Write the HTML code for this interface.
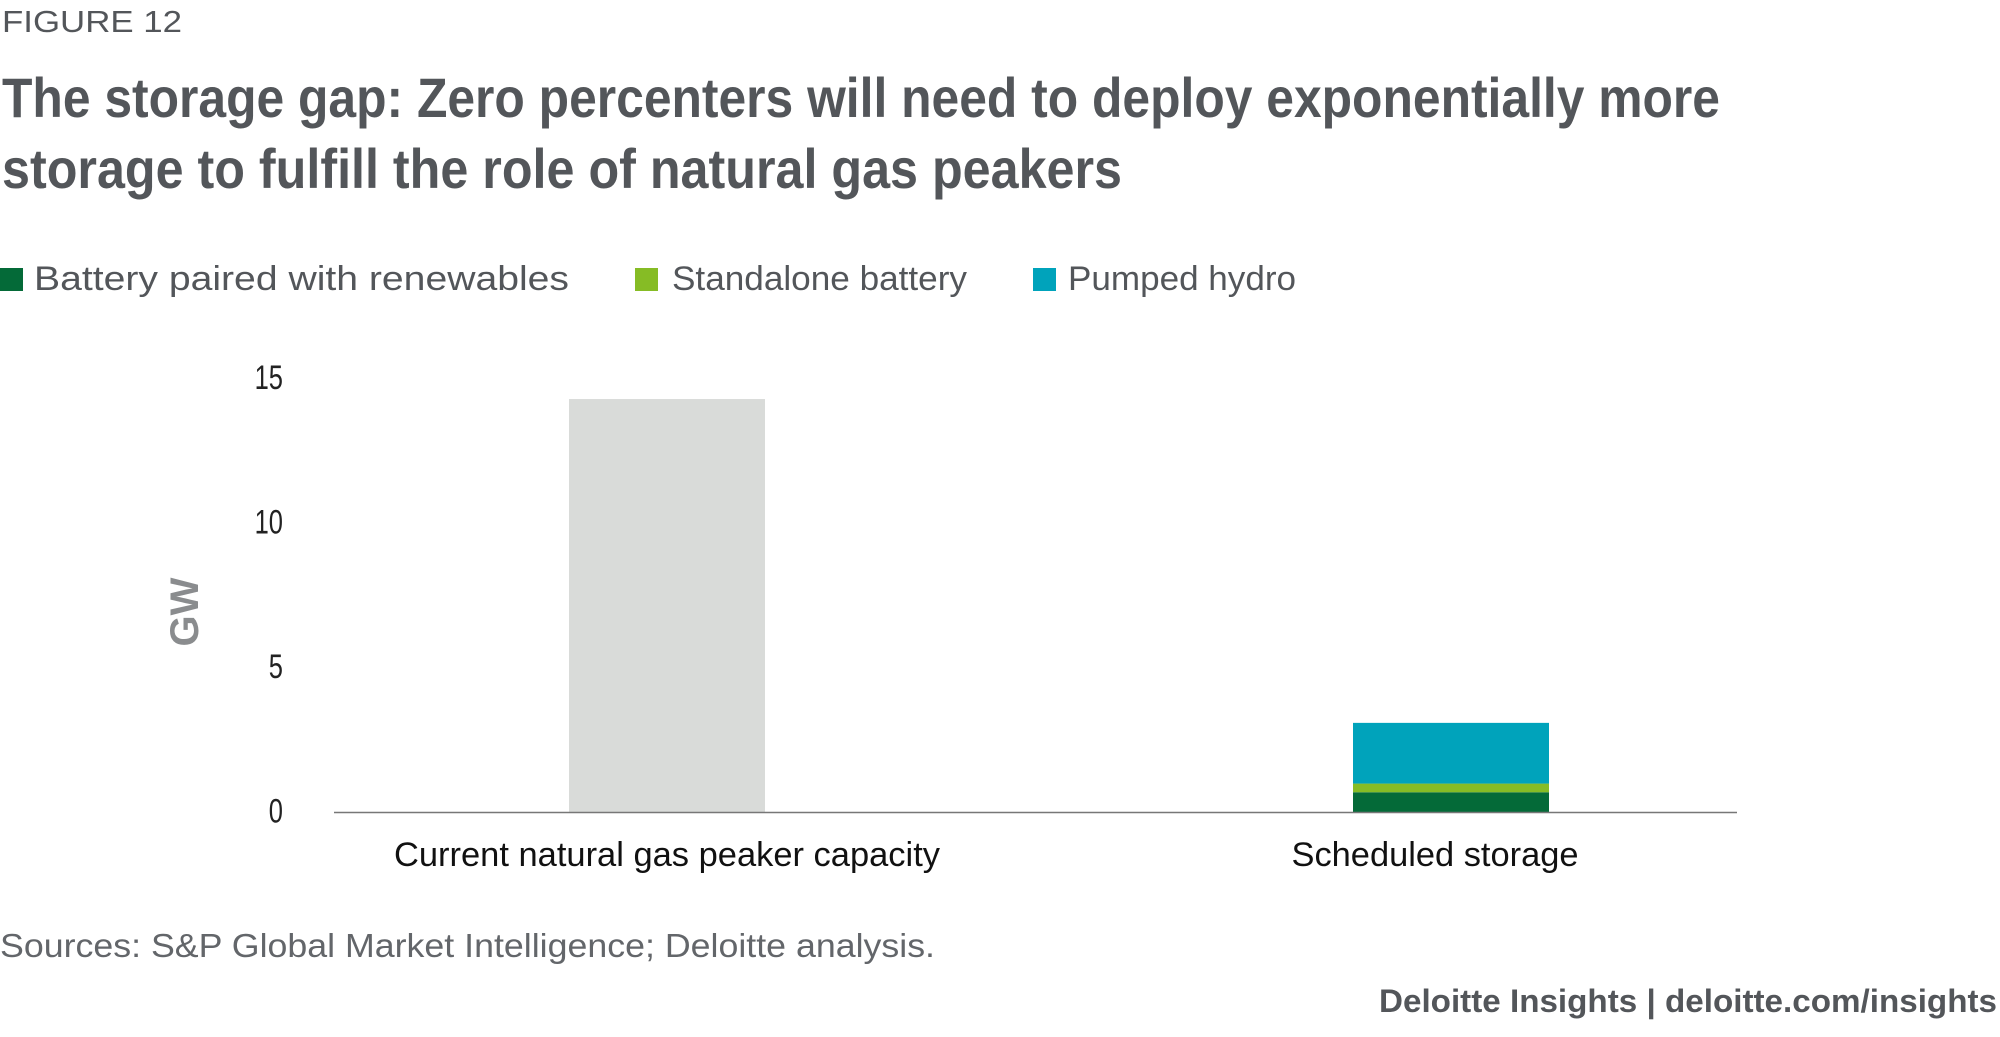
<!DOCTYPE html>
<html><head><meta charset="utf-8"><style>
html,body{margin:0;padding:0;background:#fff;}
svg{display:block;font-family:"Liberation Sans",sans-serif;}
</style></head><body>
<svg id="chart" width="2000" height="1037" viewBox="0 0 2000 1037" xmlns="http://www.w3.org/2000/svg">
<text x="2" y="32" font-size="31" fill="#53565a" textLength="180" lengthAdjust="spacingAndGlyphs">FIGURE 12</text>
<text x="2" y="117" font-size="56" font-weight="bold" fill="#53565a" textLength="1718" lengthAdjust="spacingAndGlyphs">The storage gap: Zero percenters will need to deploy exponentially more</text>
<text x="2" y="188" font-size="56" font-weight="bold" fill="#53565a" textLength="1120" lengthAdjust="spacingAndGlyphs">storage to fulfill the role of natural gas peakers</text>
<g>
<rect x="0" y="268" width="23" height="23" fill="#046a38"/>
<text x="34" y="290" font-size="34" fill="#53565a" textLength="535" lengthAdjust="spacingAndGlyphs">Battery paired with renewables</text>
<rect x="635" y="268" width="23" height="23" fill="#86bc25"/>
<text x="672" y="290" font-size="34" fill="#53565a" textLength="295" lengthAdjust="spacingAndGlyphs">Standalone battery</text>
<rect x="1033" y="268" width="23" height="23" fill="#00a3bb"/>
<text x="1068" y="290" font-size="34" fill="#53565a" textLength="228" lengthAdjust="spacingAndGlyphs">Pumped hydro</text>
</g>
<text transform="translate(198,612) rotate(-90)" text-anchor="middle" font-size="40" font-weight="bold" fill="#8a8c8e">GW</text>
<g id="plot"></g>
<text x="0" y="957" font-size="33" fill="#63666a" textLength="935" lengthAdjust="spacingAndGlyphs">Sources: S&amp;P Global Market Intelligence; Deloitte analysis.</text>
<text x="1379" y="1012" font-size="32" font-weight="bold" fill="#53565a" textLength="618" lengthAdjust="spacingAndGlyphs">Deloitte Insights | deloitte.com/insights</text>
</svg>
<script>
const categories = ["Current natural gas peaker capacity", "Scheduled storage"];
const peakerValues = [14.3, 0];
const batteryRenewablesValues = [0, 0.7];
const standaloneValues = [0, 0.3];
const pumpedHydroValues = [0, 2.1];
const yTicks = [0, 5, 10, 15];
const labelWidths = [546, 287];

const NS = "http://www.w3.org/2000/svg";
const plot = document.getElementById('plot');
const x0 = 334, x1 = 1737, y0 = 812.5, yMax = 15, yTop = 378.8;
const yScale = v => y0 - (v / yMax) * (y0 - yTop);

function mk(tag, attrs) { const e = document.createElementNS(NS, tag); for (const k in attrs) e.setAttribute(k, attrs[k]); plot.appendChild(e); return e; }

yTicks.forEach(t => {
  const e = mk('text', {x: 283, y: yScale(t) + 10, 'text-anchor': 'end', 'font-size': 34, fill: '#222', transform: `translate(283,0) scale(0.75,1) translate(-283,0)`});
  
  
  e.textContent = t;
});

const centers = [667, 1451];
const labelCenters = [667, 1435];
const series = [
  {vals: peakerValues, color: '#d9dbd9', name: 'peaker'},
  {vals: batteryRenewablesValues, color: '#046a38', name: 'battery-renewables'},
  {vals: standaloneValues, color: '#86bc25', name: 'standalone-battery'},
  {vals: pumpedHydroValues, color: '#00a3bb', name: 'pumped-hydro'}
];
const barW = 196;
categories.forEach((c, i) => {
  let acc = 0;
  series.forEach(s => {
    const v = s.vals[i];
    if (v <= 0) return;
    const r = mk('rect', {x: centers[i] - barW / 2, y: yScale(acc + v), width: barW, height: yScale(acc) - yScale(acc + v), fill: s.color});
    
    
    acc += v;
  });
  const l = mk('text', {x: labelCenters[i], y: 866, 'text-anchor': 'middle', 'font-size': 34, fill: '#111', textLength: labelWidths[i], lengthAdjust: 'spacingAndGlyphs'});
  
  
  l.textContent = c;
});

const ax = mk('line', {x1: x0, x2: x1, y1: y0, y2: y0, stroke: '#777', 'stroke-width': 1.5});


</script>
</body></html>
